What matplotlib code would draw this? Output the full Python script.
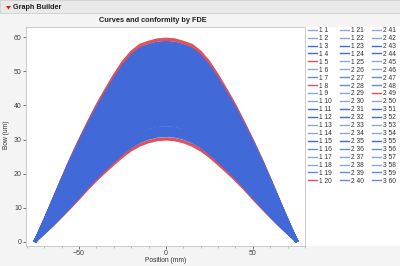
import matplotlib
matplotlib.use("Agg")
import matplotlib.pyplot as plt
from matplotlib.patches import Rectangle, Polygon
from matplotlib.ticker import MultipleLocator
import numpy as np

plt.rcParams["font.family"] = ["Liberation Sans", "DejaVu Sans"]

# positions along the part (mm)
positions = [-75, -70, -65, -60, -55, -50, -45, -40, -35, -30, -25, -20, -15, -10, -5, 0,
             5, 10, 15, 20, 25, 30, 35, 40, 45, 50, 55, 60, 65, 70, 75]
# highest and lowest bow curves (um)
top_bow = [0.4, 6.3, 12.4, 18.5, 24.4, 29.9, 35.1, 40.1, 44.6, 48.9, 52.8, 55.8, 57.8, 58.7, 59.4, 59.6,
           59.4, 58.7, 57.8, 55.8, 52.8, 48.9, 44.6, 40.1, 35.1, 29.9, 24.4, 18.5, 12.4, 6.3, 0.4]
bottom_bow = [0.4, 2.5, 4.8, 7.3, 9.9, 12.6, 15.4, 18.0, 20.4, 22.7, 24.9, 26.8, 28.2, 29.2, 29.8, 30.0,
              29.8, 29.2, 28.2, 26.8, 24.9, 22.7, 20.4, 18.0, 15.4, 12.6, 9.9, 7.3, 4.8, 2.5, 0.4]

# FDE group and sample number of each curve
groups = [1] * 25 + [2] * 25 + [3] * 10
samples = list(range(1, 61))
# estimated peak bow of each curve (um)
peak_bow = [52.1, 47.3, 41.8, 36.2, 30.0, 55.6, 44.2, 30.4, 50.3, 38.9,
            33.5, 57.8, 46.1, 42.9, 35.1, 53.4, 39.8, 49.2, 31.9, 59.6,
            54.6, 45.0, 37.6, 51.2, 32.6, 58.5, 43.6, 48.4, 34.3, 56.7,
            40.6, 53.9, 36.8, 46.7, 31.2, 50.8, 41.2, 55.1, 38.3, 47.8,
            33.0, 57.2, 44.7, 39.3, 52.7, 35.7, 49.7, 42.3, 59.2, 45.6,
            34.8, 54.2, 37.2, 48.9, 31.6, 56.2, 40.1, 51.6, 43.3, 58.0]
# curves drawn in red
red_samples = [5, 8, 20, 49]
# how the legend swatches look: L light, M medium, D dark
swatch = list("LLDDDLMDLLDDLLDMLLMD"
              "LLDDLLMMLLDDLLDMLLMM"
              "LLDDLLMMDLDDLLDMLLMM")

blue = "#416ad8"
red = "#e0505c"
swatch_alpha = {"L": 0.6, "M": 0.8, "D": 1.0}

fig = plt.figure(figsize=(4.0, 2.66), dpi=100, facecolor="#f4f4f4")
W, H = 400, 266

def fx(px):
    return px / W

def fy(py):
    return 1 - py / H

# header strip
fig.patches.append(Rectangle((0, fy(13)), 1, 13 / H, transform=fig.transFigure,
                             facecolor="#e9e9e9", edgecolor="#cfcfcf", lw=0.6, zorder=-2))
fig.patches.append(Polygon([[fx(6), fy(6)], [fx(11), fy(6)], [fx(8.5), fy(9.5)]], closed=True,
                           transform=fig.transFigure, facecolor="#cc1f1f", edgecolor="none"))
fig.text(fx(13), fy(7.5), "Graph Builder", fontsize=5.2, fontweight="bold", color="#202020",
         va="center", ha="left")
# white panel behind the legend
fig.patches.append(Rectangle((fx(305), fy(246)), 95 / W, 219 / H, transform=fig.transFigure,
                             facecolor="white", edgecolor="none", zorder=-2))

ax = fig.add_axes([fx(26), fy(246), 279 / W, 219 / H])
ax.set_facecolor("white")

top = np.array(top_bow)
bottom = np.array(bottom_bow)
handles = []
for g, s, p, sw in zip(groups, samples, peak_bow, swatch):
    f = (p - bottom_bow[15]) / (top_bow[15] - bottom_bow[15])
    is_red = s in red_samples
    ln, = ax.plot(positions, bottom + f * (top - bottom), color=red if is_red else blue,
                  lw=1.4 if is_red else 2.2, label=f"{g} {s}", solid_joinstyle="round")
    handles.append(ln)

ax.set_xlim(-80.5, 80)
ax.set_ylim(-1.2, 63)
ax.xaxis.set_major_locator(MultipleLocator(50))
ax.xaxis.set_minor_locator(MultipleLocator(10))
ax.yaxis.set_major_locator(MultipleLocator(10))
ax.tick_params(labelsize=5, colors="#404040", length=2, width=0.5, pad=1)
ax.tick_params(which="minor", length=1.5, width=0.4, colors="#909090")
for sp in ax.spines.values():
    sp.set_color("#c4c4c4")
    sp.set_linewidth(0.6)

fig.text(fx(153), fy(20), "Curves and conformity by FDE", fontsize=5.3, fontweight="bold",
         color="#202020", ha="center", va="center")
fig.text(fx(166), fy(261), "Position (mm)", fontsize=4.8, color="#303030", ha="center", va="center")
fig.text(fx(7), fy(135), "Bow (um)", fontsize=4.8, color="#303030", ha="center", va="center",
         rotation=90)

leg = ax.legend(handles=handles, ncol=3, loc="upper left", bbox_to_anchor=(fx(308), fy(27)),
                bbox_transform=fig.transFigure, fontsize=4.8, frameon=False,
                handlelength=1.4, handletextpad=0.3, columnspacing=1.15,
                labelspacing=0.14, borderaxespad=0, borderpad=0)
for t in leg.get_texts():
    t.set_color("#303030")
for h, sw, s in zip(leg.get_lines(), swatch, samples):
    h.set_linewidth(1.0)
    h.set_alpha(1.0 if s in red_samples else swatch_alpha[sw])

fig.savefig("out.png", dpi=100, facecolor=fig.get_facecolor())
